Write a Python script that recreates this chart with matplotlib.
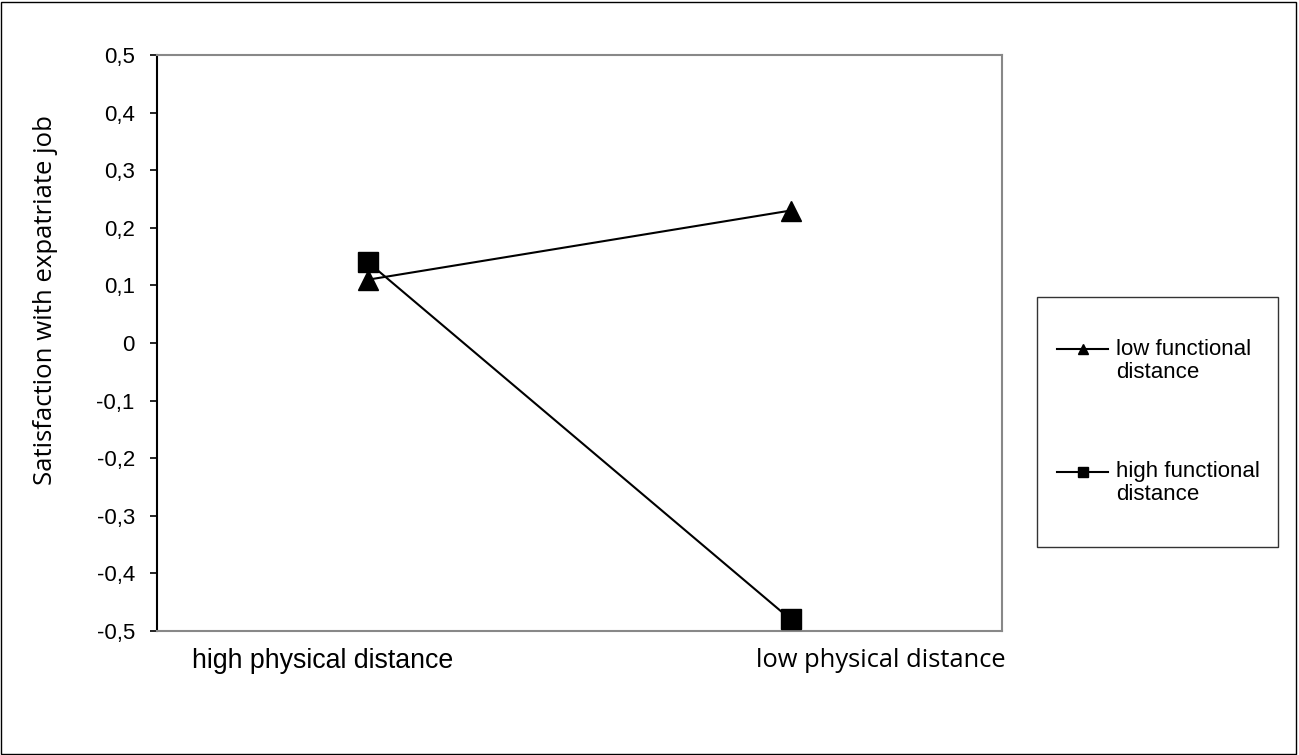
import matplotlib.pyplot as plt
from matplotlib.lines import Line2D
from matplotlib.patches import Rectangle
from matplotlib.transforms import ScaledTranslation
from matplotlib.legend_handler import HandlerLine2D

categories = ["high physical distance", "low physical distance"]
low_functional = [0.11, 0.23]
high_functional = [0.14, -0.48]
series_labels = ["low functional\ndistance", "high functional\ndistance"]
yticks = [-0.5, -0.4, -0.3, -0.2, -0.1, 0, 0.1, 0.2, 0.3, 0.4, 0.5]


class FirstLineHandler(HandlerLine2D):
    # put the legend line next to the first text line, like excel does
    def __init__(self, lift, **kw):
        super().__init__(**kw)
        self.lift = lift

    def create_artists(self, legend, orig_handle, xdescent, ydescent, width, height, fontsize, trans):
        return super().create_artists(legend, orig_handle, xdescent, ydescent - 2 * self.lift,
                                      width, height, fontsize, trans)


plt.rcParams['font.family'] = ['Liberation Sans', 'DejaVu Sans']

W, H = 1299, 755
fig = plt.figure(figsize=(W / 100, H / 100), dpi=100)
ax = fig.add_axes([157 / W, 1 - 631 / H, (1002 - 157) / W, (631 - 55) / H])

x = list(range(len(categories)))
l1, = ax.plot(x, low_functional, color='black', lw=1.5, marker='^', ms=15, zorder=3)
l2, = ax.plot(x, high_functional, color='black', lw=1.5, marker='s', ms=15, zorder=3)

ax.set_xlim(-0.5, 1.5)
ax.set_ylim(-0.5, 0.5)
ax.set_yticks(yticks)
ax.set_yticklabels(["0" if v == 0 else ("%.1f" % v).replace(".", ",") for v in yticks], fontsize=16)
ax.tick_params(axis='y', length=5, width=1.2, pad=11)

ax.set_xticks(x)
ax.set_xticklabels(categories, fontsize=19.3)
ax.tick_params(axis='x', length=0, pad=12)
# excel put the labels off-centre
shifts = [-0.46, 0.90]
for lab, dx in zip(ax.get_xticklabels(), shifts):
    lab.set_transform(lab.get_transform() + ScaledTranslation(dx, 0, fig.dpi_scale_trans))
xl2 = ax.get_xticklabels()[1]
xl2.set_family(['Open Sans', 'DejaVu Sans'])
xl2.set_fontsize(18.4)

for s in ['top', 'right', 'bottom']:
    ax.spines[s].set_color('#888888')
    ax.spines[s].set_linewidth(1.5)
ax.spines['left'].set_color('black')
ax.spines['left'].set_linewidth(1.5)

fig.text(46 / W, 1 - 300 / H, "Satisfaction with expatriate job", rotation=90,
         ha='center', va='center', fontsize=18.5, family=['Open Sans', 'DejaVu Sans'])

# legend: box drawn separately, entries placed inside
fig.patches.append(Rectangle((1037 / W, 1 - 547 / H), (1278 - 1037) / W, 250 / H,
                             transform=fig.transFigure, fill=False,
                             edgecolor='#333333', lw=1))
handles = [Line2D([], [], color='black', lw=1.5, marker='^', ms=7),
           Line2D([], [], color='black', lw=1.5, marker='s', ms=7)]
hm = {h: FirstLineHandler(lift=8.5) for h in handles}
leg = fig.legend(handles, series_labels, loc='center left', handler_map=hm,
                 bbox_to_anchor=(1057 / W, 1 - 422 / H), fontsize=16,
                 frameon=False, handlelength=2.3, handletextpad=0.36,
                 labelspacing=3.5, borderpad=0, borderaxespad=0)
for t in leg.get_texts():
    t.set_linespacing(1.15)

fig.patches.append(Rectangle((0.001, 0.001), 0.997, 0.997, transform=fig.transFigure,
                             fill=False, edgecolor='black', lw=1))

fig.savefig("out.png", dpi=100)
